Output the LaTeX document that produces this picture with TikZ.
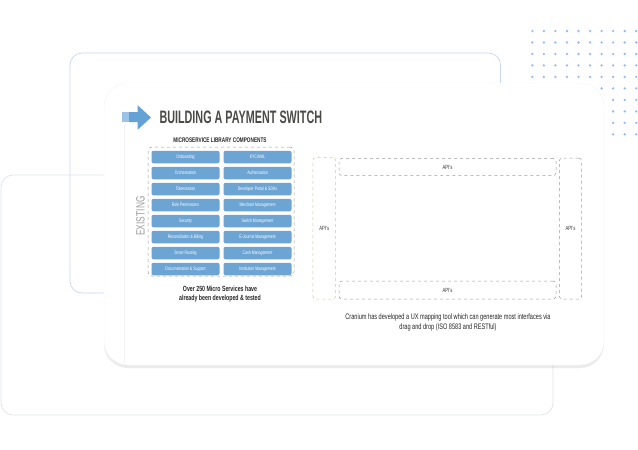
\documentclass[tikz,border=0pt]{standalone}
\usepackage{fontspec}
\setmainfont{Liberation Sans}[FakeStretch=0.7]
\newfontfamily\titlefont{Liberation Sans}[FakeStretch=0.6]
\usepackage{xcolor}
\usetikzlibrary{shadows, positioning, calc}

\definecolor{boxblue}{HTML}{6CA4D4}
\definecolor{arrowblue}{HTML}{64A2D6}
\definecolor{arrowlight}{HTML}{9CC3E6}
\definecolor{dotblue}{HTML}{93BBF4}
\definecolor{frameblue}{HTML}{C6D7EF}
\definecolor{framegray}{HTML}{E1E3E8}
\definecolor{titlegray}{HTML}{4A4A47}
\definecolor{dashgray}{HTML}{9A9A9A}
\definecolor{apigreen}{HTML}{C9D08F}

\begin{document}
\begin{tikzpicture}[x=1pt, y=-1pt,
    comp/.style={rectangle, rounded corners=2pt, fill=boxblue, text=white,
        minimum width=68pt, minimum height=12.5pt, inner sep=0pt, font=\fontsize{5}{6}\selectfont},
    apibox/.style={rectangle, rounded corners=3pt, draw=dashgray, dashed, line width=0.5pt,
        inner sep=0pt, font=\fontsize{6}{7}\selectfont, text=black!80},
    frame/.style={rounded corners=12pt, line width=0.7pt}]
    \useasboundingbox (0,0) rectangle (638,450);

    % Background frames and dot grid
    \draw [frame, draw=framegray] (1,175) rectangle (553,415);
    \draw [frame, draw=frameblue] (70,53) rectangle (500.5,293);
    \foreach \i in {0,...,9}
        \foreach \j in {0,...,9}
            \fill [dotblue] (532.3+11.55*\i, 31+11.48*\j) circle (1.3pt);

    % Card
    \node (card) [draw=black!4, fill=white, rounded corners=24pt, minimum width=500pt, minimum height=282pt,
        drop shadow={shadow xshift=0pt, shadow yshift=-3pt, fill=black, opacity=0.08}] at (354,224) {};
    \draw [black!5, line width=0.4pt] (124,125) -- (124,362);

    % Title
    \fill [arrowlight] (122,112) rectangle (129,122);
    \fill [arrowblue] (129,112) -- (137.7,112) -- (137.7,105.3) -- (151,117.5)
        -- (137.7,129.7) -- (137.7,122) -- (129,122) -- cycle;
    \node (title) [anchor=west, inner sep=0pt, text=titlegray,
        font=\titlefont\bfseries\fontsize{18}{20}\selectfont] at (159.3,117.7) {BUILDING A PAYMENT SWITCH};

    % Microservice library
    \node (libhead) [font=\bfseries\fontsize{6.7}{8}\selectfont, text=black!85] at (220,140.5) {MICROSERVICE LIBRARY COMPONENTS};
    \node (lib) [draw=dashgray, dashed, line width=0.5pt, rounded corners=4pt,
        minimum width=146pt, minimum height=129pt] at (221,211.5) {};
    \node (exist) [rotate=90, text=black!38, font=\fontsize{12}{14}\selectfont] at (140.5,216) {EXISTING};

    \node (onb) [comp] at (185.5,157) {Onboarding};
    \node (orch) [comp, below=3.1pt of onb] {Orchestration};
    \node (tok) [comp, below=3.1pt of orch] {Tokenisation};
    \node (role) [comp, below=3.1pt of tok] {Role Permissions};
    \node (sec) [comp, below=3.1pt of role] {Security};
    \node (recon) [comp, below=3.1pt of sec] {Reconciliation \& Billing};
    \node (route) [comp, below=3.1pt of recon] {Smart Routing};
    \node (doc) [comp, below=3.1pt of route] {Documentation \& Support};

    \node (kyc) [comp] at (257.5,157) {KYC/AML};
    \node (auth) [comp, below=3.1pt of kyc] {Authorisation};
    \node (dev) [comp, below=3.1pt of auth] {Developer Portal \& SDKs};
    \node (merch) [comp, below=3.1pt of dev] {Merchant Management};
    \node (switch) [comp, below=3.1pt of merch] {Switch Management};
    \node (ejour) [comp, below=3.1pt of switch] {E-Journal Management};
    \node (cash) [comp, below=3.1pt of ejour] {Cash Management};
    \node (inst) [comp, below=3.1pt of cash] {Institution Management};

    \node (over) [align=center, font=\bfseries\fontsize{7.5}{8.5}\selectfont, text=black!85] at (220,294)
        {Over 250 Micro Services have\\already been developed \& tested};

    % API frame
    \node (apil) [apibox, draw=apigreen, minimum width=22.7pt, minimum height=141.7pt] at (324.3,228.2) {API's};
    \node (apit) [apibox, minimum width=217pt, minimum height=17.4pt] at (447.5,167) {API's};
    \node (apib) [apibox, minimum width=217pt, minimum height=18pt] at (447.5,290) {API's};
    \node (apir) [apibox, minimum width=22.4pt, minimum height=141pt] at (570.5,228.5) {API's};

    \node (cran) [align=center, font=\fontsize{8}{9.5}\selectfont, text=black!85] at (448,322.3)
        {Cranium has developed a UX mapping tool which can generate most interfaces via\\drag and drop (ISO 8583 and RESTful)};
\end{tikzpicture}
\end{document}
